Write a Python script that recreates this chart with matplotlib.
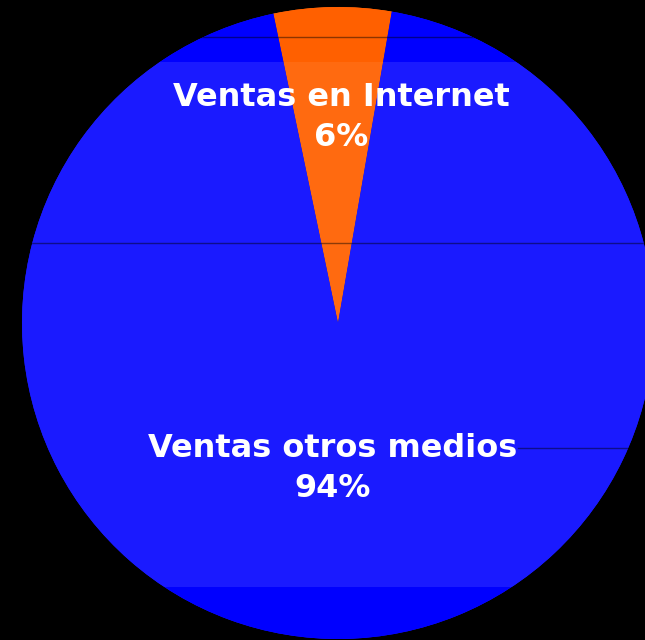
import numpy as np
import matplotlib
matplotlib.use("Agg")
import matplotlib.pyplot as plt
from matplotlib.colors import to_rgb

labels = ["Ventas en Internet", "Ventas otros medios"]
shares = [6, 94]
pct_labels = ["6%", "94%"]
colors = ["#ff6a10", "#1a1aff"]
edge_colors = ["#ff6000", "#0000ff"]

W, H = 645, 640
fig = plt.figure(figsize=(W / 100, H / 100), dpi=100, facecolor="black")
ax = fig.add_axes([0, 0, 1, 1])
ax.set_facecolor("black")

cx, cy, R = 0.0, 0.0, 316.0
wedges, _ = ax.pie(shares, colors=colors, startangle=80.2, counterclock=True,
                   radius=R, center=(cx, cy), wedgeprops=dict(linewidth=0))

# vertical banded shading inside each wedge
ny = 400
yy = np.linspace(cy + R, cy - R, ny)
for w, c_mid, c_edge in zip(wedges, colors, edge_colors):
    m = np.array(to_rgb(c_mid)); e = np.array(to_rgb(c_edge))
    rows = 323 - yy
    frac = np.where(rows < 62, 0.0, np.where(rows > 588, 0.0, 1.0))
    img = (e[None, :] * (1 - frac[:, None]) + m[None, :] * frac[:, None])
    img = np.repeat(img[:, None, :], 2, axis=1)
    im = ax.imshow(img, extent=(cx - R, cx + R, cy - R, cy + R), aspect="auto",
                   zorder=w.get_zorder() + 0.1, interpolation="nearest")
    im.set_clip_path(w)

# faint horizontal rules over the pie
rules = [(286, -400, 400), (80, -400, 400), (-125, 180, 400)]
for yv, x0, x1 in rules:
    for w in wedges:
        ln, = ax.plot([x0, x1], [yv, yv], color="black", alpha=0.45, lw=1.0, zorder=5)
        ln.set_clip_path(w)

# labels
dist = [0.65, 0.46]
dx = [7, -8]
for w, lab, pct, d, ox in zip(wedges, labels, pct_labels, dist, dx):
    ang = np.deg2rad((w.theta1 + w.theta2) / 2)
    x = cx + d * R * np.cos(ang) + ox
    y = cy + d * R * np.sin(ang)
    ax.text(x, y, lab + "\n" + pct, ha="center", va="center", color="white",
            fontsize=23, fontweight="bold", family="DejaVu Sans",
            linespacing=1.38, zorder=10)

ax.set_xlim(-338, W - 338)
ax.set_ylim(-(H - 323), 323)
ax.set_aspect("auto")
ax.axis("off")
fig.savefig("out.png", dpi=100, facecolor="black")
